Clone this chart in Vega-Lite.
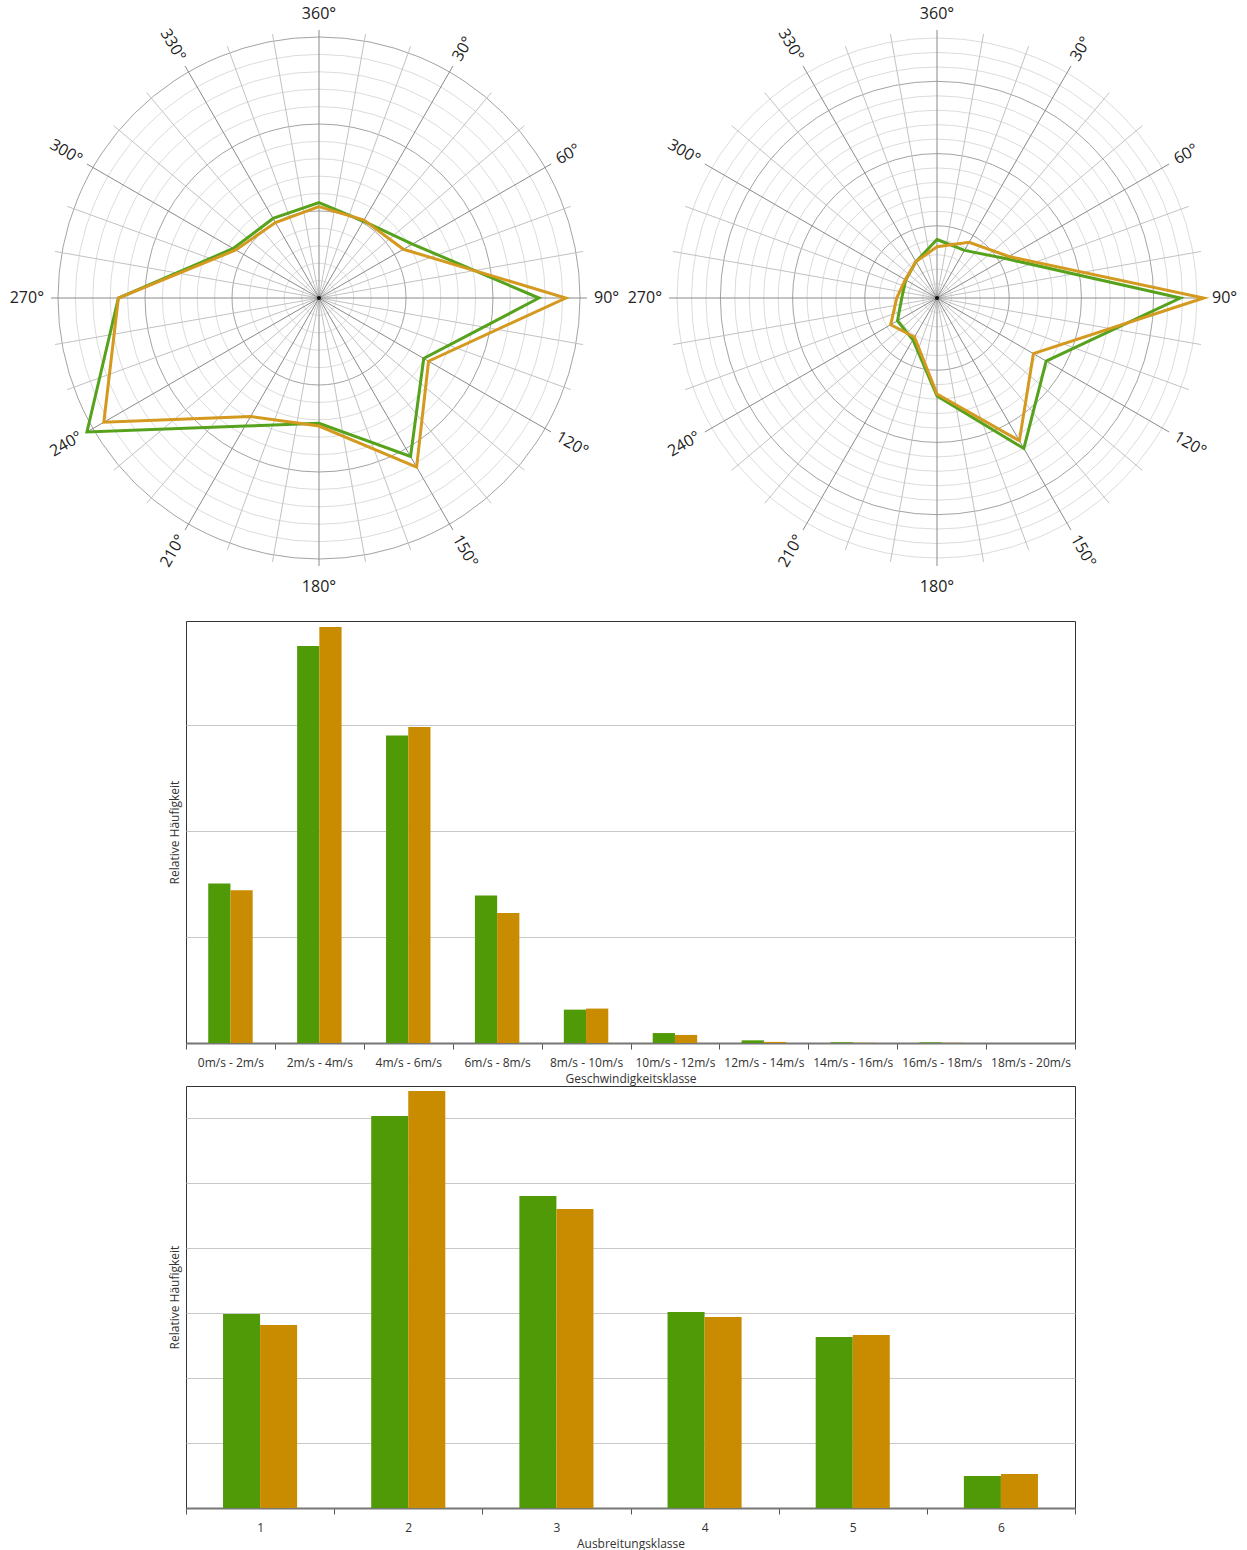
{
  "$schema": "https://vega.github.io/schema/vega-lite/v6.json",
  "background": "white",
  "padding": {"left": 9, "top": 0, "right": 0, "bottom": 0},
  "config": {
    "font": "Open Sans",
    "view": {"stroke": "#333333", "strokeWidth": 1},
    "axis": {"labelColor": "#333333", "titleColor": "#333333", "titleFontWeight": "normal", "titleFontSize": 12, "labelFontSize": 12}
  },
  "datasets": {
    "speichen": [
      {"deg": 0}, {"deg": 10}, {"deg": 20}, {"deg": 30}, {"deg": 40}, {"deg": 50},
      {"deg": 60}, {"deg": 70}, {"deg": 80}, {"deg": 90}, {"deg": 100}, {"deg": 110},
      {"deg": 120}, {"deg": 130}, {"deg": 140}, {"deg": 150}, {"deg": 160}, {"deg": 170},
      {"deg": 180}, {"deg": 190}, {"deg": 200}, {"deg": 210}, {"deg": 220}, {"deg": 230},
      {"deg": 240}, {"deg": 250}, {"deg": 260}, {"deg": 270}, {"deg": 280}, {"deg": 290},
      {"deg": 300}, {"deg": 310}, {"deg": 320}, {"deg": 330}, {"deg": 340}, {"deg": 350}
    ],
    "ringe": [
      {"ring": 1}, {"ring": 2}, {"ring": 3}, {"ring": 4}, {"ring": 5}, {"ring": 6},
      {"ring": 7}, {"ring": 8}, {"ring": 9}, {"ring": 10}, {"ring": 11}, {"ring": 12},
      {"ring": 13}, {"ring": 14}, {"ring": 15}, {"ring": 16}, {"ring": 17}, {"ring": 18}
    ],
    "beschriftung": [
      {"deg": 0, "label": "360°"}, {"deg": 30, "label": "30°"}, {"deg": 60, "label": "60°"},
      {"deg": 90, "label": "90°"}, {"deg": 120, "label": "120°"}, {"deg": 150, "label": "150°"},
      {"deg": 180, "label": "180°"}, {"deg": 210, "label": "210°"}, {"deg": 240, "label": "240°"},
      {"deg": 270, "label": "270°"}, {"deg": 300, "label": "300°"}, {"deg": 330, "label": "330°"}
    ],
    "richtungLinks": [
      {"deg": 0, "serie": "A", "wert": 5.48}, {"deg": 30, "serie": "A", "wert": 5.1},
      {"deg": 60, "serie": "A", "wert": 6.2}, {"deg": 90, "serie": "A", "wert": 12.64},
      {"deg": 120, "serie": "A", "wert": 6.95}, {"deg": 150, "serie": "A", "wert": 10.52},
      {"deg": 180, "serie": "A", "wert": 7.2}, {"deg": 210, "serie": "A", "wert": 8.5},
      {"deg": 240, "serie": "A", "wert": 15.4}, {"deg": 270, "serie": "A", "wert": 11.53},
      {"deg": 300, "serie": "A", "wert": 5.69}, {"deg": 330, "serie": "A", "wert": 5.28},
      {"deg": 0, "serie": "B", "wert": 5.25}, {"deg": 30, "serie": "B", "wert": 5.17},
      {"deg": 60, "serie": "B", "wert": 5.6}, {"deg": 90, "serie": "B", "wert": 14.18},
      {"deg": 120, "serie": "B", "wert": 7.27}, {"deg": 150, "serie": "B", "wert": 11.22},
      {"deg": 180, "serie": "B", "wert": 7.36}, {"deg": 210, "serie": "B", "wert": 7.87},
      {"deg": 240, "serie": "B", "wert": 14.28}, {"deg": 270, "serie": "B", "wert": 11.53},
      {"deg": 300, "serie": "B", "wert": 5.52}, {"deg": 330, "serie": "B", "wert": 5.01}
    ],
    "richtungRechts": [
      {"deg": 0, "serie": "A", "wert": 4.05}, {"deg": 30, "serie": "A", "wert": 3.81},
      {"deg": 60, "serie": "A", "wert": 5.47}, {"deg": 90, "serie": "A", "wert": 16.85},
      {"deg": 120, "serie": "A", "wert": 8.73}, {"deg": 150, "serie": "A", "wert": 12.03},
      {"deg": 180, "serie": "A", "wert": 6.79}, {"deg": 210, "serie": "A", "wert": 3.34},
      {"deg": 240, "serie": "A", "wert": 3.16}, {"deg": 270, "serie": "A", "wert": 2.44},
      {"deg": 300, "serie": "A", "wert": 2.5}, {"deg": 330, "serie": "A", "wert": 2.91},
      {"deg": 0, "serie": "B", "wert": 3.55}, {"deg": 30, "serie": "B", "wert": 4.45},
      {"deg": 60, "serie": "B", "wert": 5.75}, {"deg": 90, "serie": "B", "wert": 18.47},
      {"deg": 120, "serie": "B", "wert": 7.71}, {"deg": 150, "serie": "B", "wert": 11.41},
      {"deg": 180, "serie": "B", "wert": 6.65}, {"deg": 210, "serie": "B", "wert": 3.12},
      {"deg": 240, "serie": "B", "wert": 3.7}, {"deg": 270, "serie": "B", "wert": 2.79},
      {"deg": 300, "serie": "B", "wert": 2.54}, {"deg": 330, "serie": "B", "wert": 2.91}
    ],
    "geschwindigkeit": [
      {"klasse": "0m/s - 2m/s", "serie": "A", "anteil": 15.05}, {"klasse": "0m/s - 2m/s", "serie": "B", "anteil": 14.42},
      {"klasse": "2m/s - 4m/s", "serie": "A", "anteil": 37.49}, {"klasse": "2m/s - 4m/s", "serie": "B", "anteil": 39.28},
      {"klasse": "4m/s - 6m/s", "serie": "A", "anteil": 29.03}, {"klasse": "4m/s - 6m/s", "serie": "B", "anteil": 29.84},
      {"klasse": "6m/s - 8m/s", "serie": "A", "anteil": 13.92}, {"klasse": "6m/s - 8m/s", "serie": "B", "anteil": 12.28},
      {"klasse": "8m/s - 10m/s", "serie": "A", "anteil": 3.15}, {"klasse": "8m/s - 10m/s", "serie": "B", "anteil": 3.25},
      {"klasse": "10m/s - 12m/s", "serie": "A", "anteil": 0.94}, {"klasse": "10m/s - 12m/s", "serie": "B", "anteil": 0.76},
      {"klasse": "12m/s - 14m/s", "serie": "A", "anteil": 0.25}, {"klasse": "12m/s - 14m/s", "serie": "B", "anteil": 0.1},
      {"klasse": "14m/s - 16m/s", "serie": "A", "anteil": 0.07}, {"klasse": "14m/s - 16m/s", "serie": "B", "anteil": 0.02},
      {"klasse": "16m/s - 18m/s", "serie": "A", "anteil": 0.06}, {"klasse": "16m/s - 18m/s", "serie": "B", "anteil": 0.02},
      {"klasse": "18m/s - 20m/s", "serie": "A", "anteil": 0.0}, {"klasse": "18m/s - 20m/s", "serie": "B", "anteil": 0.0}
    ],
    "ausbreitung": [
      {"klasse": "1", "serie": "A", "anteil": 14.92}, {"klasse": "1", "serie": "B", "anteil": 14.08},
      {"klasse": "2", "serie": "A", "anteil": 30.15}, {"klasse": "2", "serie": "B", "anteil": 32.08},
      {"klasse": "3", "serie": "A", "anteil": 24.0}, {"klasse": "3", "serie": "B", "anteil": 23.0},
      {"klasse": "4", "serie": "A", "anteil": 15.08}, {"klasse": "4", "serie": "B", "anteil": 14.69},
      {"klasse": "5", "serie": "A", "anteil": 13.15}, {"klasse": "5", "serie": "B", "anteil": 13.31},
      {"klasse": "6", "serie": "A", "anteil": 2.46}, {"klasse": "6", "serie": "B", "anteil": 2.62}
    ]
  },
  "vconcat": [
    {
      "hconcat": [
        {
          "width": 266,
          "height": 596,
          "view": {"stroke": null, "fill": "transparent"},
          "encoding": {
            "x": {"field": "px", "type": "quantitative", "scale": {"domain": [-7.6437, 7.6437], "nice": false, "zero": false}, "axis": null},
            "y": {"field": "py", "type": "quantitative", "scale": {"domain": [-17.1264, 17.1264], "nice": false, "zero": false}, "axis": null}
          },
          "layer": [
            {
              "data": {"name": "ringe"},
              "transform": [
                {"filter": "datum.ring <= 15"},
                {"calculate": "0", "as": "px"},
                {"calculate": "0", "as": "py"},
                {"calculate": "datum.ring % 5 === 0 ? 1 : 0", "as": "major"}
              ],
              "mark": {"type": "point", "shape": "circle", "filled": false, "opacity": 1, "strokeWidth": 1},
              "encoding": {
                "size": {"field": "ring", "type": "quantitative", "scale": {"type": "pow", "exponent": 2, "domain": [0, 15], "range": [0, 272484]}, "legend": null},
                "stroke": {"condition": {"test": "datum.major === 1", "value": "#a3a3a3"}, "value": "#dcdcdc"},
                "order": {"field": "major", "type": "quantitative"}
              }
            },
            {
              "data": {"name": "speichen"},
              "transform": [
                {"calculate": "0", "as": "px"},
                {"calculate": "0", "as": "py"},
                {"calculate": "15.402 * sin(datum.deg * PI / 180)", "as": "sx"},
                {"calculate": "15.402 * cos(datum.deg * PI / 180)", "as": "sy"},
                {"calculate": "datum.deg % 30 === 0 ? 1 : 0", "as": "major"}
              ],
              "mark": {"type": "rule", "strokeWidth": 1},
              "encoding": {
                "x2": {"field": "sx"},
                "y2": {"field": "sy"},
                "stroke": {"condition": {"test": "datum.major === 1", "value": "#8a8a8a"}, "value": "#c2c2c2"},
                "order": {"field": "major", "type": "quantitative"}
              }
            },
            {
              "data": {"values": [{"ring": 0}]},
              "transform": [{"calculate": "0", "as": "px"}, {"calculate": "0", "as": "py"}],
              "mark": {"type": "point", "shape": "circle", "filled": true, "size": 18, "color": "#111111", "opacity": 1},
              "encoding": {}
            },
            {
              "data": {"name": "richtungLinks"},
              "transform": [
                {"calculate": "datum.wert * sin(datum.deg * PI / 180)", "as": "px"},
                {"calculate": "datum.wert * cos(datum.deg * PI / 180)", "as": "py"}
              ],
              "mark": {"type": "line", "interpolate": "linear-closed", "strokeWidth": 3, "strokeJoin": "miter"},
              "encoding": {
                "stroke": {"field": "serie", "type": "nominal", "scale": {"domain": ["A", "B"], "range": ["#56A21C", "#D4991F"]}, "legend": null},
                "order": {"field": "deg", "type": "quantitative"}
              }
            },
            {
              "data": {"name": "beschriftung"},
              "transform": [
                {"filter": "datum.deg > 0 && datum.deg < 180"},
                {"calculate": "15.805 * sin(datum.deg * PI / 180)", "as": "px"},
                {"calculate": "15.805 * cos(datum.deg * PI / 180)", "as": "py"},
                {"calculate": "datum.deg - 90", "as": "rot"}
              ],
              "mark": {"type": "text", "align": "left", "baseline": "middle", "fontSize": 16, "color": "#222222"},
              "encoding": {"text": {"field": "label"}, "angle": {"field": "rot", "type": "quantitative", "scale": null}}
            },
            {
              "data": {"name": "beschriftung"},
              "transform": [
                {"filter": "datum.deg > 180"},
                {"calculate": "15.805 * sin(datum.deg * PI / 180)", "as": "px"},
                {"calculate": "15.805 * cos(datum.deg * PI / 180)", "as": "py"},
                {"calculate": "datum.deg - 270", "as": "rot"}
              ],
              "mark": {"type": "text", "align": "right", "baseline": "middle", "fontSize": 16, "color": "#222222"},
              "encoding": {"text": {"field": "label"}, "angle": {"field": "rot", "type": "quantitative", "scale": null}}
            },
            {
              "data": {"name": "beschriftung"},
              "transform": [
                {"filter": "datum.deg === 0 || datum.deg === 180"},
                {"calculate": "(datum.deg === 0 ? 16.322 : 16.61) * cos(datum.deg * PI / 180)", "as": "py"},
                {"calculate": "0", "as": "px"}
              ],
              "mark": {"type": "text", "align": "center", "baseline": "middle", "fontSize": 16, "color": "#222222"},
              "encoding": {"text": {"field": "label"}}
            }
          ]
        },
        {
          "width": 600,
          "height": 596,
          "view": {"stroke": null, "fill": "transparent"},
          "encoding": {
            "x": {"field": "px", "type": "quantitative", "scale": {"domain": [-32.2022, 9.349], "nice": false, "zero": false}, "axis": null},
            "y": {"field": "py", "type": "quantitative", "scale": {"domain": [-20.6371, 20.6371], "nice": false, "zero": false}, "axis": null}
          },
          "layer": [
            {
              "data": {"name": "ringe"},
              "transform": [
                {"calculate": "0", "as": "px"},
                {"calculate": "0", "as": "py"},
                {"calculate": "datum.ring % 5 === 0 ? 1 : 0", "as": "major"}
              ],
              "mark": {"type": "point", "shape": "circle", "filled": false, "opacity": 1, "strokeWidth": 1},
              "encoding": {
                "size": {"field": "ring", "type": "quantitative", "scale": {"type": "pow", "exponent": 2, "domain": [0, 18], "range": [0, 270234]}, "legend": null},
                "stroke": {"condition": {"test": "datum.major === 1", "value": "#a3a3a3"}, "value": "#dcdcdc"},
                "order": {"field": "major", "type": "quantitative"}
              }
            },
            {
              "data": {"name": "speichen"},
              "transform": [
                {"calculate": "0", "as": "px"},
                {"calculate": "0", "as": "py"},
                {"calculate": "18.56 * sin(datum.deg * PI / 180)", "as": "sx"},
                {"calculate": "18.56 * cos(datum.deg * PI / 180)", "as": "sy"},
                {"calculate": "datum.deg % 30 === 0 ? 1 : 0", "as": "major"}
              ],
              "mark": {"type": "rule", "strokeWidth": 1},
              "encoding": {
                "x2": {"field": "sx"},
                "y2": {"field": "sy"},
                "stroke": {"condition": {"test": "datum.major === 1", "value": "#8a8a8a"}, "value": "#c2c2c2"},
                "order": {"field": "major", "type": "quantitative"}
              }
            },
            {
              "data": {"values": [{"ring": 0}]},
              "transform": [{"calculate": "0", "as": "px"}, {"calculate": "0", "as": "py"}],
              "mark": {"type": "point", "shape": "circle", "filled": true, "size": 18, "color": "#111111", "opacity": 1},
              "encoding": {}
            },
            {
              "data": {"name": "richtungRechts"},
              "transform": [
                {"calculate": "datum.wert * sin(datum.deg * PI / 180)", "as": "px"},
                {"calculate": "datum.wert * cos(datum.deg * PI / 180)", "as": "py"}
              ],
              "mark": {"type": "line", "interpolate": "linear-closed", "strokeWidth": 3, "strokeJoin": "miter"},
              "encoding": {
                "stroke": {"field": "serie", "type": "nominal", "scale": {"domain": ["A", "B"], "range": ["#56A21C", "#D4991F"]}, "legend": null},
                "order": {"field": "deg", "type": "quantitative"}
              }
            },
            {
              "data": {"name": "beschriftung"},
              "transform": [
                {"filter": "datum.deg > 0 && datum.deg < 180"},
                {"calculate": "19.044 * sin(datum.deg * PI / 180)", "as": "px"},
                {"calculate": "19.044 * cos(datum.deg * PI / 180)", "as": "py"},
                {"calculate": "datum.deg - 90", "as": "rot"}
              ],
              "mark": {"type": "text", "align": "left", "baseline": "middle", "fontSize": 16, "color": "#222222"},
              "encoding": {"text": {"field": "label"}, "angle": {"field": "rot", "type": "quantitative", "scale": null}}
            },
            {
              "data": {"name": "beschriftung"},
              "transform": [
                {"filter": "datum.deg > 180"},
                {"calculate": "19.044 * sin(datum.deg * PI / 180)", "as": "px"},
                {"calculate": "19.044 * cos(datum.deg * PI / 180)", "as": "py"},
                {"calculate": "datum.deg - 270", "as": "rot"}
              ],
              "mark": {"type": "text", "align": "right", "baseline": "middle", "fontSize": 16, "color": "#222222"},
              "encoding": {"text": {"field": "label"}, "angle": {"field": "rot", "type": "quantitative", "scale": null}}
            },
            {
              "data": {"name": "beschriftung"},
              "transform": [
                {"filter": "datum.deg === 0 || datum.deg === 180"},
                {"calculate": "(datum.deg === 0 ? 19.668 : 20.014) * cos(datum.deg * PI / 180)", "as": "py"},
                {"calculate": "0", "as": "px"}
              ],
              "mark": {"type": "text", "align": "center", "baseline": "middle", "fontSize": 16, "color": "#222222"},
              "encoding": {"text": {"field": "label"}}
            }
          ]
        }
      ],
      "spacing": 20,
      "bounds": "flush",
      "align": "each",
      "resolve": {"scale": {"x": "independent", "y": "independent", "size": "independent"}}
    },
    {
      "vconcat": [
        {
          "width": 889,
          "height": 422,
          "data": {"name": "geschwindigkeit"},
          "mark": {"type": "bar"},
          "encoding": {
            "x": {
              "field": "klasse", "type": "nominal", "sort": null,
              "scale": {"paddingInner": 0, "paddingOuter": 0},
              "axis": {"title": "Geschwindigkeitsklasse", "labelAngle": 0, "tickBand": "extent", "tickSize": 6, "tickColor": "#555555", "domainColor": "#777777", "domainWidth": 2, "labelPadding": 8, "titlePadding": 5, "grid": false}
            },
            "xOffset": {"field": "serie", "type": "nominal", "sort": ["A", "B"], "scale": {"paddingInner": 0, "paddingOuter": 1}},
            "y": {
              "field": "anteil", "type": "quantitative",
              "scale": {"domain": [0, 39.85], "nice": false},
              "axis": {"title": "Relative Häufigkeit", "labels": false, "ticks": false, "domain": false, "grid": true, "gridColor": "#c8c8c8", "values": [10, 20, 30], "titlePadding": 5}
            },
            "color": {"field": "serie", "type": "nominal", "scale": {"domain": ["A", "B"], "range": ["#4F9A06", "#C98C00"]}, "legend": null}
          }
        },
        {
          "width": 889,
          "height": 422,
          "data": {"name": "ausbreitung"},
          "mark": {"type": "bar"},
          "encoding": {
            "x": {
              "field": "klasse", "type": "nominal", "sort": null,
              "scale": {"paddingInner": 0, "paddingOuter": 0},
              "axis": {"title": "Ausbreitungsklasse", "labelAngle": 0, "tickBand": "extent", "tickSize": 6, "tickColor": "#555555", "domainColor": "#777777", "domainWidth": 2, "labelPadding": 8, "titlePadding": 5, "grid": false}
            },
            "xOffset": {"field": "serie", "type": "nominal", "sort": ["A", "B"], "scale": {"paddingInner": 0, "paddingOuter": 1}},
            "y": {
              "field": "anteil", "type": "quantitative",
              "scale": {"domain": [0, 32.46], "nice": false},
              "axis": {"title": "Relative Häufigkeit", "labels": false, "ticks": false, "domain": false, "grid": true, "gridColor": "#c8c8c8", "values": [5, 10, 15, 20, 25, 30], "titlePadding": 5}
            },
            "color": {"field": "serie", "type": "nominal", "scale": {"domain": ["A", "B"], "range": ["#4F9A06", "#C98C00"]}, "legend": null}
          }
        }
      ],
      "spacing": 43,
      "bounds": "flush",
      "align": "each",
      "resolve": {"scale": {"x": "independent", "y": "independent", "xOffset": "independent"}}
    }
  ],
  "spacing": 24,
  "bounds": "full",
  "align": "each",
  "resolve": {"scale": {"x": "independent", "y": "independent", "size": "independent", "xOffset": "independent"}}
}
